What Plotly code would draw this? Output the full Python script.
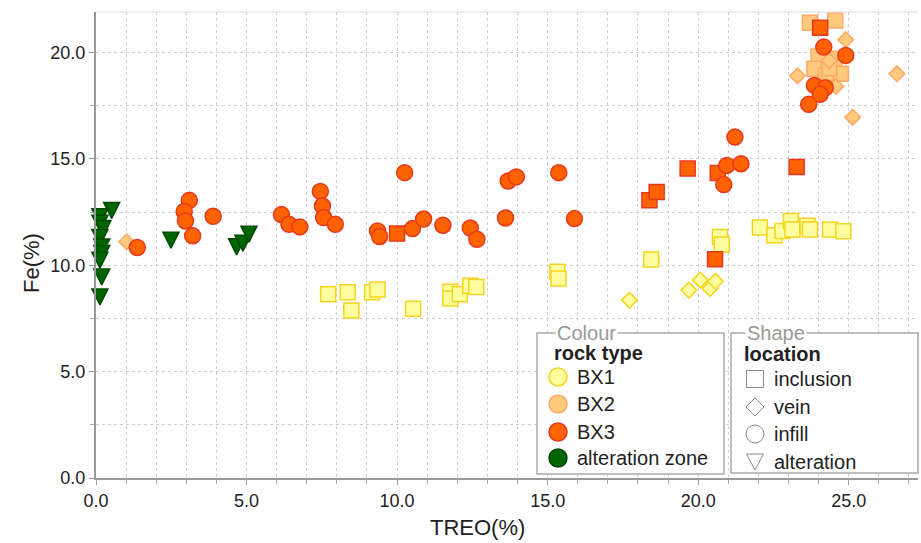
import plotly.graph_objects as go

# ---------------- data ----------------
bx1_incl_x = [7.71, 8.36, 8.48, 9.17, 9.35, 10.53, 11.77, 11.77, 12.08, 12.43, 12.63, 15.32, 15.36,
              18.44, 20.72, 20.78, 22.05, 22.53, 22.80, 23.08, 23.13, 23.63, 23.71, 24.38, 24.82]
bx1_incl_y = [8.64, 8.73, 7.87, 8.73, 8.86, 7.95, 8.75, 8.44, 8.64, 9.03, 8.98, 9.69, 9.37,
              10.27, 11.33, 10.97, 11.77, 11.41, 11.61, 12.08, 11.68, 11.85, 11.68, 11.68, 11.60]

bx1_vein_x = [17.72, 19.69, 20.07, 20.39, 20.57]
bx1_vein_y = [8.36, 8.83, 9.30, 8.90, 9.25]

bx2_incl_x = [23.71, 24.55, 24.00, 23.86, 24.24, 24.74, 24.52, 24.35]
bx2_incl_y = [21.39, 21.50, 19.81, 19.23, 18.92, 19.00, 19.70, 19.25]

bx2_vein_x = [1.02, 24.90, 24.35, 23.30, 26.60, 25.13, 24.57]
bx2_vein_y = [11.10, 20.60, 19.62, 18.90, 19.00, 16.95, 18.40]

bx3_incl_x = [10.00, 18.38, 18.62, 19.65, 20.56, 20.65, 23.27, 24.05]
bx3_incl_y = [11.49, 13.05, 13.44, 14.54, 10.28, 14.33, 14.62, 21.16]

bx3_infill_x = [1.37, 3.10, 2.93, 2.97, 3.21, 3.89, 6.16, 6.41, 6.77, 7.45, 7.52, 7.56, 7.95,
                9.35, 9.42, 10.25, 10.51, 10.88, 11.52, 12.43, 12.65, 13.60, 13.69, 13.96,
                15.37, 15.89, 20.95, 20.85, 21.42, 21.22, 24.17, 24.90, 23.86, 24.22, 24.05, 23.67]
bx3_infill_y = [10.83, 13.05, 12.53, 12.08, 11.38, 12.30, 12.38, 11.92, 11.80, 13.47, 12.78, 12.24, 11.92,
                11.61, 11.35, 14.35, 11.72, 12.17, 11.88, 11.75, 11.22, 12.22, 13.96, 14.15,
                14.35, 12.19, 14.69, 13.79, 14.77, 16.02, 20.25, 19.86, 18.45, 18.34, 18.03, 17.56]

alt_x = [0.52, 0.13, 0.13, 0.23, 0.13, 0.19, 0.19, 0.13, 0.19, 0.13, 2.49, 4.67, 4.88, 5.08]
alt_y = [12.20, 11.90, 11.60, 11.35, 10.93, 10.48, 10.18, 9.86, 9.07, 8.13, 10.80, 10.49, 10.66, 11.08]

x_ticks = [0, 5, 10, 15, 20, 25]
y_ticks = [0, 5, 10, 15, 20]
colour_labels = ["BX1", "BX2", "BX3", "alteration zone"]
shape_labels = ["inclusion", "vein", "infill", "alteration"]

# ---------------- styles ----------------
W, H = 921, 543
FONT = "Liberation Sans, Arial, Helvetica, sans-serif"
C_BX1 = ("#FFFFA0", "#F5D31E")
C_BX2 = ("#FFC97E", "#FFA865")
C_BX3 = ("#FF6200", "#E5391E")
C_ALT = ("#006400", "#004A00")


def px(x):
    return x / W


def py(y):
    return 1 - y / H


fig = go.Figure()


def add(xs, ys, sym, col, size, name):
    fig.add_trace(go.Scatter(
        x=xs, y=ys, mode="markers", name=name, showlegend=False,
        marker=dict(symbol=sym, size=size, color=col[0],
                    line=dict(color=col[1], width=1.5)),
        cliponaxis=False,
    ))


add(bx1_incl_x, bx1_incl_y, "square", C_BX1, 15, "BX1 inclusion")
add(bx1_vein_x, bx1_vein_y, "diamond", C_BX1, 12, "BX1 vein")
add(bx2_incl_x, bx2_incl_y, "square", C_BX2, 15, "BX2 inclusion")
add(bx2_vein_x, bx2_vein_y, "diamond", C_BX2, 12, "BX2 vein")
add(bx3_incl_x, bx3_incl_y, "square", C_BX3, 15, "BX3 inclusion")
add(bx3_infill_x, bx3_infill_y, "circle", C_BX3, 16, "BX3 infill")
add(alt_x, alt_y, "arrow-down", C_ALT, 16, "alteration zone")

grid = dict(showgrid=True, gridcolor="#cfcfcf", griddash="3px,3px", gridwidth=1)

fig.update_layout(
    width=W, height=H, autosize=False,
    margin=dict(l=0, r=0, t=0, b=0, pad=0, autoexpand=False),
    paper_bgcolor="white", plot_bgcolor="white",
    font=dict(family=FONT, size=18, color="#222"),
    xaxis=dict(domain=[96 / W, 918 / W], range=[0, 27.3], tickvals=x_ticks, automargin=False,
               ticktext=[f"{v:.1f}" for v in x_ticks], ticks="outside", ticklen=5,
               tickcolor="#999", showline=True, linecolor="#999", linewidth=2,
               zeroline=False, tickfont=dict(size=18),
               minor=dict(dtick=1, ticks="outside", ticklen=4, tickcolor="#aaa", **grid),
               **grid),
    yaxis=dict(domain=[py(478), py(12)], range=[0, 21.9], tickvals=y_ticks, automargin=False,
               ticktext=[f"{v:.1f}" for v in y_ticks], ticks="outside", ticklen=5,
               tickcolor="#999", showline=True, linecolor="#999", linewidth=2,
               zeroline=False, tickfont=dict(size=18),
               minor=dict(dtick=2.5, ticks="outside", ticklen=4, tickcolor="#aaa", **grid),
               **grid),
)

shapes = []
# top border of plot
shapes.append(dict(type="line", xref="paper", yref="paper", x0=px(96), x1=px(918),
                   y0=py(12), y1=py(12), line=dict(color="#dddddd", width=1), layer="above"))
# legend boxes
shapes.append(dict(type="rect", xref="paper", yref="paper", x0=px(537), x1=px(724),
                   y0=py(474), y1=py(333), fillcolor="white",
                   line=dict(color="#aaaaaa", width=1.5), layer="above"))
shapes.append(dict(type="rect", xref="paper", yref="paper", x0=px(731), x1=px(918),
                   y0=py(473), y1=py(333), fillcolor="white",
                   line=dict(color="#aaaaaa", width=1.5), layer="above"))

colour_rows = [377, 404, 432, 458]
colour_cols = [C_BX1, C_BX2, C_BX3, C_ALT]
r = 9
for yy, col in zip(colour_rows, colour_cols):
    shapes.append(dict(type="circle", xref="paper", yref="paper",
                       x0=px(558 - r), x1=px(558 + r), y0=py(yy + r), y1=py(yy - r),
                       fillcolor=col[0], line=dict(color=col[1], width=1.5), layer="above"))

shape_rows = [379, 407, 434, 462]
cx = 755
g = dict(color="#8a8a8a", width=1)
# square
shapes.append(dict(type="rect", xref="paper", yref="paper", x0=px(cx - 8.5), x1=px(cx + 8.5),
                   y0=py(shape_rows[0] + 8.5), y1=py(shape_rows[0] - 8.5),
                   line=g, fillcolor="white", layer="above"))
# diamond
yy = shape_rows[1]
d = 9
shapes.append(dict(type="path", xref="paper", yref="paper", layer="above", line=g,
                   fillcolor="white",
                   path=f"M{px(cx)},{py(yy - d)} L{px(cx + d)},{py(yy)} L{px(cx)},{py(yy + d)} L{px(cx - d)},{py(yy)} Z"))
# circle
yy = shape_rows[2]
shapes.append(dict(type="circle", xref="paper", yref="paper", x0=px(cx - 9), x1=px(cx + 9),
                   y0=py(yy + 9), y1=py(yy - 9), line=g, fillcolor="white", layer="above"))
# triangle down
yy = shape_rows[3]
shapes.append(dict(type="path", xref="paper", yref="paper", layer="above", line=g,
                   fillcolor="white",
                   path=f"M{px(cx - 8.5)},{py(yy - 8)} L{px(cx + 8.5)},{py(yy - 8)} L{px(cx)},{py(yy + 8)} Z"))

fig.update_layout(shapes=shapes)

ann = []
ann.append(dict(text="Fe(%)", x=px(31), y=py(263), textangle=-90, font=dict(size=22)))
ann.append(dict(text="TREO(%)", x=px(477), y=py(527), font=dict(size=22)))
ann.append(dict(text="Colour", x=px(555), y=py(333), xanchor="left", bgcolor="white",
                font=dict(size=20, color="#999"), borderpad=1))
ann.append(dict(text="Shape", x=px(745), y=py(333), xanchor="left", bgcolor="white",
                font=dict(size=20, color="#999"), borderpad=1))
ann.append(dict(text="<b>rock type</b>", x=px(552), y=py(353), xanchor="left",
                font=dict(size=20, color="#222")))
ann.append(dict(text="<b>location</b>", x=px(742), y=py(354), xanchor="left",
                font=dict(size=20, color="#222")))
for yy, t in zip(colour_rows, colour_labels):
    ann.append(dict(text=t, x=px(575), y=py(yy), xanchor="left", font=dict(size=20, color="#222")))
for yy, t in zip(shape_rows, shape_labels):
    ann.append(dict(text=t, x=px(772), y=py(yy), xanchor="left", font=dict(size=20, color="#222")))
for a in ann:
    a.update(xref="paper", yref="paper", showarrow=False)
    a.setdefault("yanchor", "middle")
    a.setdefault("xanchor", "center")
fig.update_layout(annotations=ann)

fig.write_html(
    "out.html",
    config={"displayModeBar": False},
    post_script="document.body.style.margin='0px';document.body.style.padding='0px';"
                "document.body.style.overflow='hidden';",
)
